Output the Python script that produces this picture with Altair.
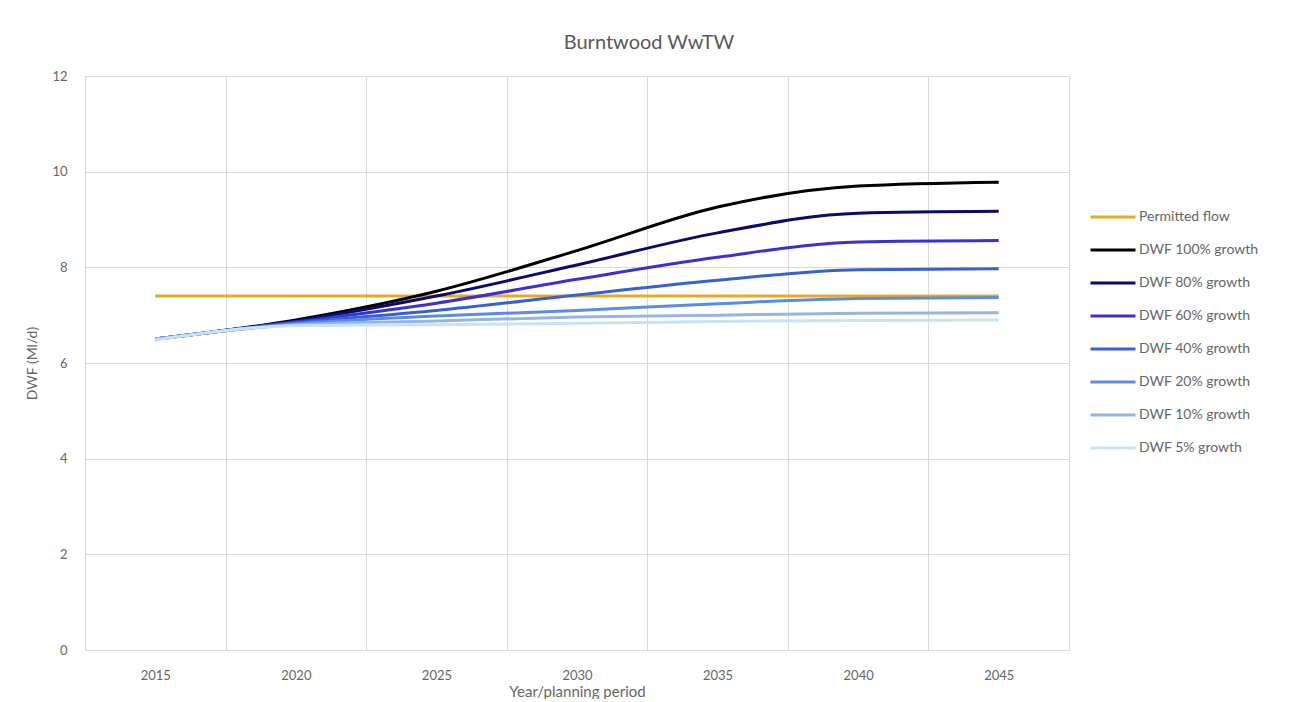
import altair as alt
import pandas as pd

years = [2015, 2020, 2025, 2030, 2035, 2040, 2045]
series_names = [
    "Permitted flow",
    "DWF 100% growth",
    "DWF 80% growth",
    "DWF 60% growth",
    "DWF 40% growth",
    "DWF 20% growth",
    "DWF 10% growth",
    "DWF 5% growth",
]
permitted = [7.4, 7.4, 7.4, 7.4, 7.4, 7.4, 7.4]
g100 = [6.5, 6.9, 7.5, 8.35, 9.26, 9.7, 9.78]
g80 = [6.5, 6.88, 7.4, 8.05, 8.72, 9.13, 9.17]
g60 = [6.5, 6.86, 7.25, 7.75, 8.21, 8.53, 8.56]
g40 = [6.5, 6.84, 7.1, 7.42, 7.73, 7.95, 7.97]
g20 = [6.5, 6.82, 6.98, 7.1, 7.24, 7.35, 7.37]
g10 = [6.5, 6.8, 6.88, 6.96, 7.0, 7.04, 7.05]
g5 = [6.48, 6.78, 6.8, 6.83, 6.87, 6.89, 6.9]
colors = ["#E8A923", "#000000", "#0B0B6B", "#3B30D6", "#3462D4", "#5A8CE3", "#96B3E3", "#C5E3F6"]
grid_years = [2012.5, 2017.5, 2022.5, 2027.5, 2032.5, 2037.5, 2042.5, 2047.5]

all_series = [permitted, g100, g80, g60, g40, g20, g10, g5]
rows = []
for name, vals in zip(series_names, all_series):
    for yr, v in zip(years, vals):
        rows.append({"Year": yr, "Value": v, "Series": name})
df = pd.DataFrame(rows)

FONT = "Lato"
GRAY = "#666666"

axis_vals = sorted(years + grid_years)

chart = alt.Chart(df).mark_line(interpolate="monotone", strokeWidth=3).encode(
    x=alt.X(
        "Year:Q",
        scale=alt.Scale(domain=[2012.5, 2047.5], nice=False, zero=False),
        axis=alt.Axis(
            values=axis_vals,
            labelExpr="datum.value % 5 == 0 ? format(datum.value, 'd') : ''",
            gridOpacity={"condition": {"test": "datum.value % 5 == 0", "value": 0}, "value": 1},
            gridColor="#d9d9d9",
            ticks=False,
            domain=False,
            labelPadding=19,
            labelFontSize=13,
            labelColor=GRAY,
            labelFont=FONT,
            title="Year/planning period",
            titleFontSize=15,
            titleFontWeight="normal",
            titleColor=GRAY,
            titleFont=FONT,
            titlePadding=2,
        ),
    ),
    y=alt.Y(
        "Value:Q",
        scale=alt.Scale(domain=[0, 12], nice=False),
        axis=alt.Axis(
            values=[0, 2, 4, 6, 8, 10, 12],
            gridColor="#d9d9d9",
            ticks=False,
            domain=False,
            labelPadding=18,
            labelFontSize=13,
            labelColor=GRAY,
            labelFont=FONT,
            title="DWF (Ml/d)",
            titleFontSize=14,
            titleFontWeight="normal",
            titleColor=GRAY,
            titleFont=FONT,
            titlePadding=12,
        ),
    ),
    color=alt.Color(
        "Series:N",
        scale=alt.Scale(domain=series_names, range=colors),
        sort=series_names,
        legend=alt.Legend(
            title=None,
            orient="none",
            legendX=1004,
            legendY=127,
            symbolType="stroke",
            symbolSize=2025,
            symbolStrokeWidth=3,
            clipHeight=28,
            rowPadding=5,
            labelFontSize=14,
            labelColor=GRAY,
            labelFont=FONT,
            labelOffset=2,
        ),
    ),
    order=alt.Order("Year:Q"),
).properties(
    width=984,
    height=574,
    title=alt.TitleParams(
        "Burntwood WwTW",
        fontSize=20,
        fontWeight="normal",
        color="#595959",
        font=FONT,
        anchor="middle",
        dx=72,
        offset=17,
    ),
    padding={"left": 17, "top": 25, "right": 5, "bottom": 0},
).configure_view(stroke="#d9d9d9")

chart.save("out.html", embed_options={"renderer": "svg", "actions": False})
